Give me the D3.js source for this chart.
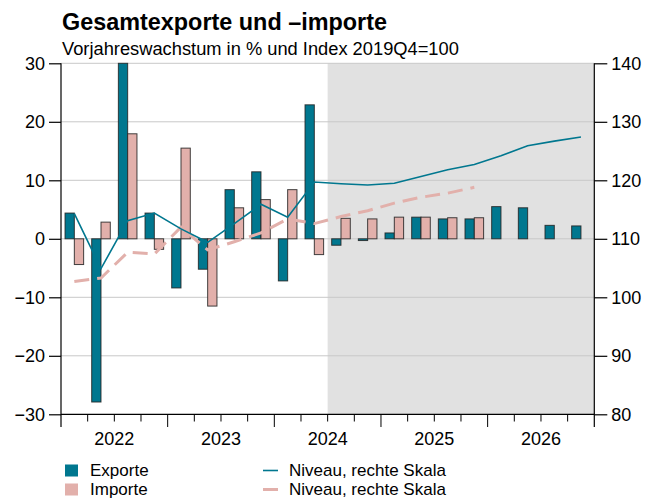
<!DOCTYPE html>
<html><head><meta charset="utf-8">
<script src="https://cdn.jsdelivr.net/npm/d3@7"></script>
<style>body{margin:0;background:#fff;} svg{display:block;font-family:"Liberation Sans",Arial,sans-serif;}</style>
</head><body><svg id="c" width="659" height="500"></svg>
<script>
const quarters = ["2022Q1","2022Q2","2022Q3","2022Q4","2023Q1","2023Q2","2023Q3","2023Q4","2024Q1","2024Q2","2024Q3","2024Q4","2025Q1","2025Q2","2025Q3","2025Q4","2026Q1","2026Q2","2026Q3","2026Q4"];
const years = ["2022","2023","2024","2025","2026"];
const exporte = [4.4,-27.9,30,4.4,-8.4,-5.2,8.4,11.45,-7.2,22.9,-1.1,-0.3,1.0,3.7,3.4,3.4,5.5,5.3,2.3,2.2];
const importe = [-4.4,2.85,17.95,-1.8,15.5,-11.5,5.3,6.7,8.4,-2.7,3.5,3.4,3.7,3.7,3.6,3.6,0,0,0,0];
const niveauExporte = [114.3,104.9,113.1,114.4,111.7,109.4,112.6,115.9,113.7,119.7,119.4,119.2,119.5,120.65,121.8,122.7,124.2,125.9,126.7,127.4];
const niveauImporte = [102.7,103.3,107.7,107.4,112.0,108.1,109.5,111.0,113.4,112.6,113.8,114.8,116.1,117.1,117.8,118.8,null,null,null,null];
const leftTicks = [-30,-20,-10,0,10,20,30];
const rightTicks = [80,90,100,110,120,130,140];
const forecastStart = 10;
const legendBars = ["Exporte","Importe"];
const legendLines = ["Niveau, rechte Skala","Niveau, rechte Skala"];

const teal = "#00778f", pink = "#e2b0ab";
const svg = d3.select("#c");
const X0 = 61, X1 = 594.3, Y0 = 63.3, Y1 = 414.3;
const x = d3.scaleLinear().domain([0, quarters.length]).range([X0, X1]);
const yL = d3.scaleLinear().domain([-30,30]).range([Y1, Y0]);
const yR = d3.scaleLinear().domain([80,140]).range([Y1, Y0]);

// forecast shading
svg.append("rect").attr("x", x(forecastStart)).attr("y", Y0)
  .attr("width", x(quarters.length) - x(forecastStart)).attr("height", Y1 - Y0).attr("fill", "#e1e1e1");

// grid
svg.append("g").selectAll("line").data(leftTicks.filter(d=>d>-30)).join("line")
  .attr("x1", X0).attr("x2", X1).attr("y1", d=>yL(d)).attr("y2", d=>yL(d))
  .attr("stroke", "#c8c8c8").attr("stroke-width", 1);

// bars
const qw = x(1) - x(0);
const bw = 9.3;
const g = svg.append("g");
quarters.forEach((q,i)=>{
  const c = x(i) + qw/2;
  [[exporte[i], teal, c - bw],[importe[i], pink, c]].forEach(([v,col,bx])=>{
    if (v == null) return;
    g.append("rect").attr("x", bx).attr("width", bw)
      .attr("y", yL(Math.max(0,v))).attr("height", Math.abs(yL(v)-yL(0)))
      .attr("fill", col).attr("stroke", "#222").attr("stroke-width", 1).attr("stroke-opacity", 0.85);
  });
});

// lines
const lineGen = d3.line().defined(d=>d!=null).x((d,i)=>x(i)+qw/2).y(d=>yR(d));
svg.append("path").datum(niveauImporte).attr("d", lineGen).attr("fill","none")
  .attr("stroke", pink).attr("stroke-width", 3).attr("stroke-dasharray","15,8");
svg.append("path").datum(niveauExporte).attr("d", lineGen).attr("fill","none")
  .attr("stroke", teal).attr("stroke-width", 1.6);

// axes
const axL = svg.append("g").attr("transform",`translate(${X0},0)`)
  .call(d3.axisLeft(yL).tickValues(leftTicks).tickSize(12).tickPadding(4).tickFormat(d=> d<0 ? "\u2212"+Math.abs(d) : d));
const axR = svg.append("g").attr("transform",`translate(${X1},0)`)
  .call(d3.axisRight(yR).tickValues(rightTicks).tickSize(13).tickPadding(4));
[axL, axR].forEach(a=>{
  a.select(".domain").remove();
  a.selectAll("text").attr("font-size", 18).attr("font-family","Liberation Sans, Arial, sans-serif").attr("fill","#000");
  a.selectAll("line").attr("stroke","#000").attr("stroke-width",1.2);
});
svg.append("line").attr("x1",X0).attr("x2",X0).attr("y1",Y0).attr("y2",427).attr("stroke","#000").attr("stroke-width",1.2);
svg.append("line").attr("x1",X1).attr("x2",X1).attr("y1",Y0).attr("y2",427).attr("stroke","#000").attr("stroke-width",1.2);

// bottom axis
svg.append("line").attr("x1",X0).attr("x2",X1).attr("y1",Y1).attr("y2",Y1).attr("stroke","#000").attr("stroke-width",1.2);
svg.append("g").selectAll("line").data(d3.range(1, quarters.length)).join("line")
  .attr("x1", d=>x(d)).attr("x2", d=>x(d)).attr("y1", Y1).attr("y2", d=> d%4===0 ? 427 : 421.5)
  .attr("stroke","#000").attr("stroke-width",1);
svg.append("g").selectAll("text").data(years).join("text")
  .attr("x",(d,i)=>x(i*4+2)).attr("y",445).attr("text-anchor","middle")
  .attr("font-size",18).text(d=>d);

// titles
svg.append("text").attr("x",62).attr("y",30).attr("font-size",23.4).attr("font-weight","bold").text("Gesamtexporte und \u2013importe");
svg.append("text").attr("x",62).attr("y",55).attr("font-size",18.3).text("Vorjahreswachstum in % und Index 2019Q4=100");

// legend
const lg = svg.append("g");
legendBars.forEach((t,i)=>{
  lg.append("rect").attr("x",65).attr("y",464.5+i*19).attr("width",13).attr("height",12).attr("fill", i===0?teal:pink);
  lg.append("text").attr("x",90).attr("y",475.5+i*19).attr("font-size",17).text(t);
});
legendLines.forEach((t,i)=>{
  lg.append("line").attr("x1",263).attr("x2",278).attr("y1",470.5+i*19).attr("y2",470.5+i*19)
    .attr("stroke", i===0?teal:pink).attr("stroke-width", i===0?1.6:3);
  lg.append("text").attr("x",289).attr("y",475.5+i*19).attr("font-size",17).text(t);
});
</script></body></html>
